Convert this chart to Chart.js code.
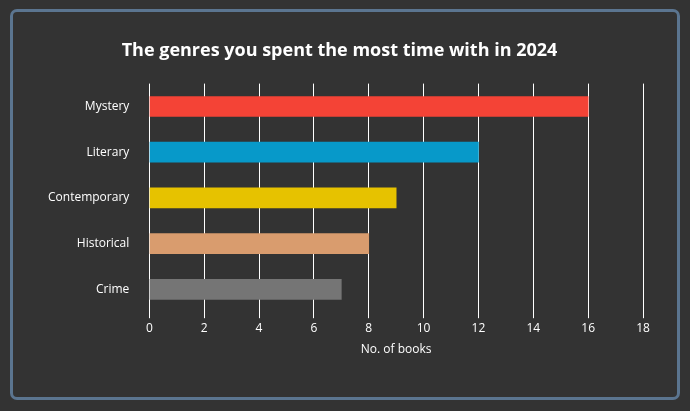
<!DOCTYPE html>
<html><head><meta charset="utf-8">
<script src="https://cdn.jsdelivr.net/npm/chart.js@4"></script>
<style>
body{margin:0;background:#333;width:690px;height:411px;overflow:hidden}
#frame{position:absolute;left:10px;top:9px;width:664px;height:385px;border:3px solid #5b7590;border-radius:7px;background:#333}
#wrap{position:absolute;left:0;top:0;width:664px;height:385px}
</style></head><body>
<div id="frame"><div id="wrap"><canvas id="c"></canvas></div></div>
<script>
const genres = ["Mystery", "Literary", "Contemporary", "Historical", "Crime"];
const books = [16, 12, 9, 8, 7];
const colors = ["#f44336", "#0799c9", "#e6c200", "#d99c6e", "#757575"];
const font = "'Open Sans', sans-serif";

new Chart(document.getElementById("c"), {
  type: "bar",
  data: { labels: genres, datasets: [{ data: books, backgroundColor: colors, barThickness: 20 }] },
  options: {
    indexAxis: "y",
    responsive: true,
    maintainAspectRatio: false,
    animation: false,
    layout: { padding: { left: 23, right: 34, top: 28, bottom: 36 } },
    plugins: {
      legend: { display: false },
      title: { display: true, text: "The genres you spent the most time with in 2024", color: "#fff",
        font: { family: font, size: 18, weight: "bold" }, padding: { bottom: 22 } },
      tooltip: { enabled: false }
    },
    scales: {
      x: { min: 0, max: 18, ticks: { stepSize: 2, color: "#fff", font: { family: font, size: 12 } },
        grid: { color: "#fff", drawTicks: true, tickLength: 6 }, border: { display: false },
        title: { display: true, text: "No. of books", color: "#fff", font: { family: font, size: 12 } } },
      y: { ticks: { color: "#fff", font: { family: font, size: 12 }, padding: 12 },
        grid: { display: false }, border: { display: false } }
    }
  }
});
</script></body></html>
